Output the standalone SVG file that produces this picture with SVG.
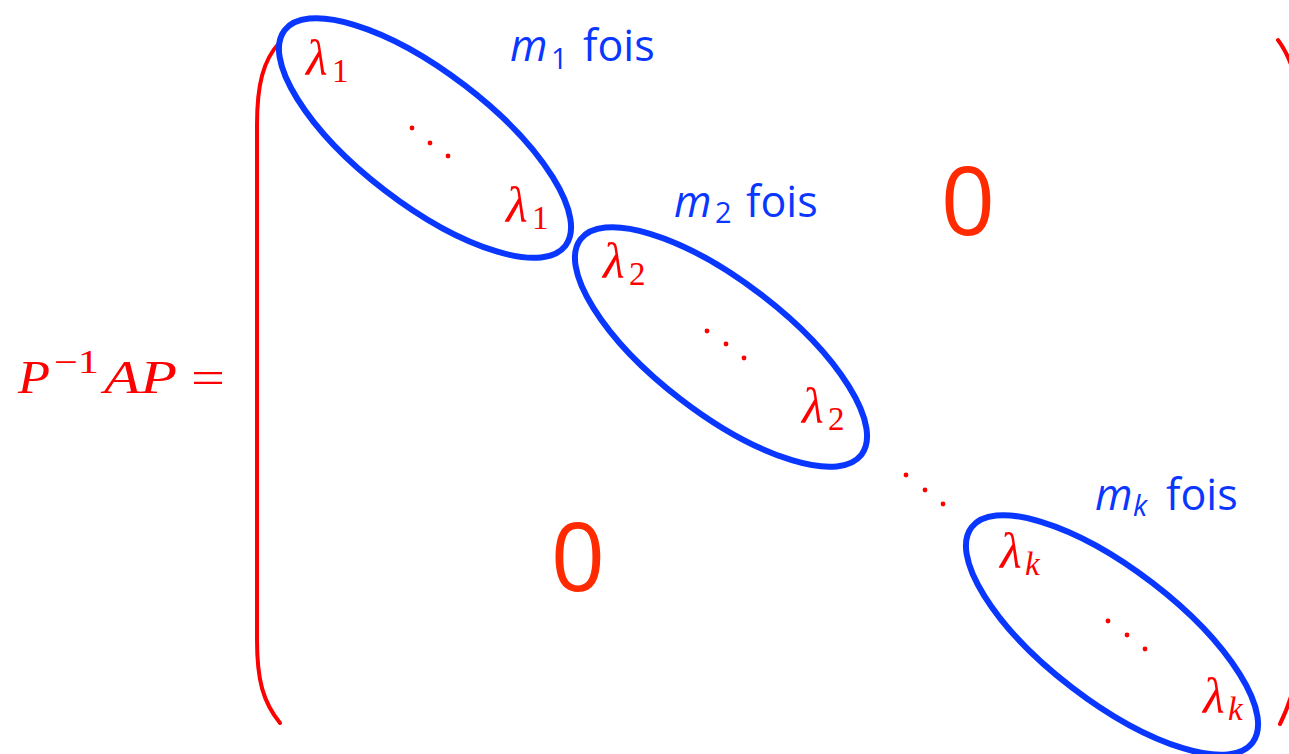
<svg xmlns="http://www.w3.org/2000/svg" width="1289" height="754" viewBox="0 0 1289 754">
<style>
.ell{fill:none;stroke:#0A37FF;stroke-width:6}
.br{fill:none;stroke:#FF0000;stroke-width:4;stroke-linecap:round}
.m{font-family:"Liberation Serif",serif;fill:#FF0000}
.it{font-style:italic}
.lam{font-size:50px}
.sub{font-size:33px}
.dot{fill:#FF0000}
.lbl{font-family:"Open Sans",sans-serif;fill:#0A37FF;font-size:43px}
.zero{font-family:"Open Sans",sans-serif;fill:#FF2A00;font-size:95px;text-anchor:middle}
</style>
<rect width="1289" height="754" fill="#ffffff"/>
<g id="lhs">
<text class="m it" x="18" y="393" font-size="47" textLength="32" lengthAdjust="spacingAndGlyphs">P</text>
<text class="m" x="54" y="373" font-size="33" textLength="45" lengthAdjust="spacingAndGlyphs">−1</text>
<text class="m it" x="104" y="393" font-size="47" textLength="73" lengthAdjust="spacingAndGlyphs">AP</text>
<text class="m" x="191" y="393" font-size="47" textLength="34" lengthAdjust="spacingAndGlyphs">=</text>
</g>
<g id="brackets">
<path class="br" d="M280,42 C263,60 257,85 257,125 L257,640 C257,680 263,702 280,723"/>
<path class="br" d="M1278,40 C1284,48 1289,58 1293,70"/>
<path class="br" d="M1280,724 C1285,714 1289,704 1293,690"/>
</g>
<g id="block1">
<ellipse class="ell" cx="425" cy="138" rx="177" ry="66" transform="rotate(37.5 425 138)"/>
<text class="m it lam" x="306" y="75">λ</text><text class="m sub" x="332" y="82">1</text>
<circle class="dot" cx="412" cy="128" r="2.4"/><circle class="dot" cx="430" cy="143" r="2.4"/><circle class="dot" cx="448" cy="156" r="2.4"/>
<text class="m it lam" x="506" y="222">λ</text><text class="m sub" x="532" y="229">1</text>
<text class="lbl" y="61"><tspan x="510" font-style="italic">m</tspan><tspan x="551" dy="8" font-size="29">1</tspan><tspan x="583" dy="-8">fois</tspan></text>
</g>
<g id="block2">
<ellipse class="ell" cx="721" cy="347" rx="177" ry="66" transform="rotate(37.5 721 347)"/>
<text class="m it lam" x="603" y="278">λ</text><text class="m sub" x="629" y="285">2</text>
<circle class="dot" cx="707" cy="331" r="2.4"/><circle class="dot" cx="726" cy="344" r="2.4"/><circle class="dot" cx="744" cy="358" r="2.4"/>
<text class="m it lam" x="802" y="423">λ</text><text class="m sub" x="828" y="430">2</text>
<text class="lbl" y="217"><tspan x="674" font-style="italic">m</tspan><tspan x="715" dy="6" font-size="29">2</tspan><tspan x="746" dy="-6">fois</tspan></text>
</g>
<g id="dots-mid">
<circle class="dot" cx="906" cy="475" r="2.4"/><circle class="dot" cx="925" cy="490" r="2.4"/><circle class="dot" cx="943" cy="504" r="2.4"/>
</g>
<g id="block3">
<ellipse class="ell" cx="1112" cy="635" rx="177" ry="66" transform="rotate(37.5 1112 635)"/>
<text class="m it lam" x="1000" y="568">λ</text><text class="m it sub" x="1025" y="575">k</text>
<circle class="dot" cx="1108" cy="621" r="2.4"/><circle class="dot" cx="1127" cy="635" r="2.4"/><circle class="dot" cx="1145" cy="649" r="2.4"/>
<text class="m it lam" x="1203" y="713">λ</text><text class="m it sub" x="1228" y="720">k</text>
<text class="lbl" y="510"><tspan x="1095" font-style="italic">m</tspan><tspan x="1133" dy="6" font-size="29" font-style="italic">k</tspan><tspan x="1166" dy="-6">fois</tspan></text>
</g>
<g id="zeros">
<text class="zero" x="968" y="235">0</text>
<text class="zero" x="578" y="591">0</text>
</g>
</svg>
